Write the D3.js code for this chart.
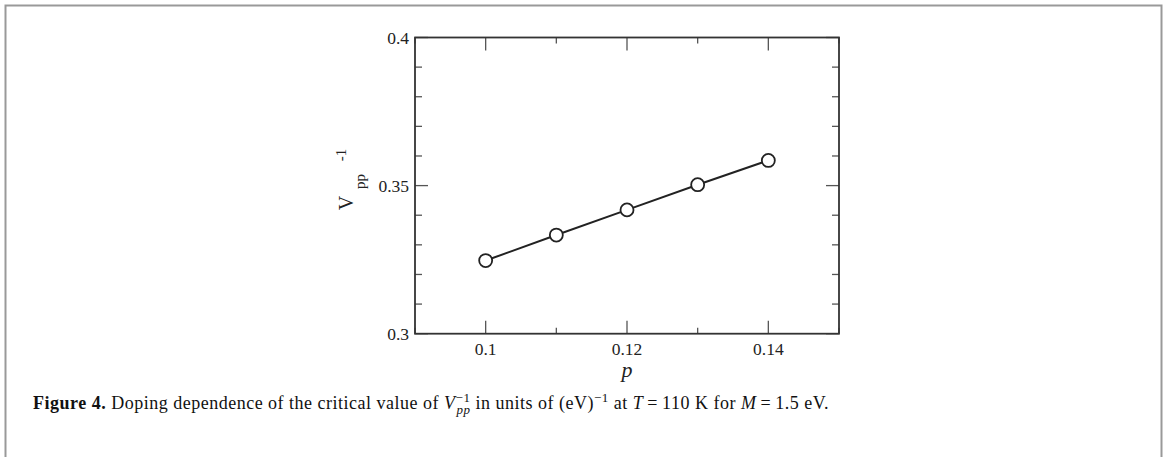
<!DOCTYPE html>
<html><head><meta charset="utf-8">
<script src="https://cdn.jsdelivr.net/npm/d3@7/dist/d3.min.js"></script>
<style>
html,body{margin:0;padding:0;background:#fff;}
svg{display:block;}
text{font-family:"Liberation Serif","Times New Roman",serif;}
</style></head><body>
<svg id="c" width="1168" height="457"></svg>
<script>
const pValues = [0.10, 0.11, 0.12, 0.13, 0.14];
const vInv = [0.3247, 0.3333, 0.3418, 0.3503, 0.3585];
const xMajorTicks = [0.10, 0.12, 0.14];
const xMinorTicks = [0.09, 0.11, 0.13, 0.15];
const yMajorTicks = [0.30, 0.35, 0.40];
const yMinorTicks = [0.31, 0.32, 0.33, 0.34, 0.36, 0.37, 0.38, 0.39];
const xTickLabels = ["0.1", "0.12", "0.14"];
const yTickLabels = ["0.3", "0.35", "0.4"];

const svg = d3.select("#c");
// outer figure frame
svg.append("path").attr("d","M5.5,470 V5.5 H1161.5 V470")
  .attr("fill","none").attr("stroke","#999").attr("stroke-width",2);

const L=415, R=839, T=37.5, B=333.7;
const x = d3.scaleLinear().domain([0.09,0.15]).range([L,R]);
const y = d3.scaleLinear().domain([0.30,0.40]).range([B,T]);
const g = svg.append("g");

const tickCol="#555";
function yT(vals,len){
  g.selectAll(null).data(vals).enter().append("line")
    .attr("x1",L).attr("x2",L+len).attr("y1",d=>y(d)).attr("y2",d=>y(d))
    .attr("stroke",tickCol).attr("stroke-width",1.3);
  g.selectAll(null).data(vals).enter().append("line")
    .attr("x1",R).attr("x2",R-len).attr("y1",d=>y(d)).attr("y2",d=>y(d))
    .attr("stroke",tickCol).attr("stroke-width",1.3);
}
function xT(vals,len){
  g.selectAll(null).data(vals).enter().append("line")
    .attr("y1",B).attr("y2",B-len).attr("x1",d=>x(d)).attr("x2",d=>x(d))
    .attr("stroke",tickCol).attr("stroke-width",1.3);
  g.selectAll(null).data(vals).enter().append("line")
    .attr("y1",T).attr("y2",T+len).attr("x1",d=>x(d)).attr("x2",d=>x(d))
    .attr("stroke",tickCol).attr("stroke-width",1.3);
}
yT(yMajorTicks,13); yT(yMinorTicks,7);
xT(xMajorTicks,13); xT(xMinorTicks,6);

// frame
g.append("rect").attr("x",L).attr("y",T).attr("width",R-L).attr("height",B-T)
  .attr("fill","none").attr("stroke","#333").attr("stroke-width",1.8);

// tick labels
g.selectAll(null).data(yMajorTicks).enter().append("text")
  .attr("x",L-6).attr("y",d=>y(d)).attr("dy","0.35em").attr("text-anchor","end")
  .attr("font-size",17.5).attr("fill","#222").text((d,i)=>yTickLabels[i]);
g.selectAll(null).data(xMajorTicks).enter().append("text")
  .attr("x",d=>x(d)).attr("y",B+21).attr("text-anchor","middle")
  .attr("font-size",17.5).attr("fill","#222").text((d,i)=>xTickLabels[i]);

// axis titles
g.append("text").attr("x",(L+R)/2).attr("y",377).attr("text-anchor","middle")
  .attr("font-size",22).attr("font-style","italic").attr("fill","#222").text("p");
function rot(tx,ty,str,size){
  g.append("text").attr("transform",`translate(${tx},${ty}) rotate(-90)`)
   .attr("text-anchor","middle").attr("font-size",size).attr("fill","#222").text(str);
}
rot(353,203,"V",20);
rot(365,181.5,"pp",15);
rot(346,155,"-1",15);

// data line and markers
const data = pValues.map((p,i)=>({p, v:vInv[i]}));
g.append("path").datum(data)
  .attr("d",d3.line().x(d=>x(d.p)).y(d=>y(d.v)))
  .attr("fill","none").attr("stroke","#222").attr("stroke-width",2);
g.selectAll(null).data(data).enter().append("circle")
  .attr("cx",d=>x(d.p)).attr("cy",d=>y(d.v)).attr("r",6.5)
  .attr("fill","#fff").attr("stroke","#222").attr("stroke-width",1.8);

// caption
const cap = svg.append("text").attr("x",33).attr("y",409).attr("font-size",18)
  .attr("letter-spacing",0.5).attr("fill","#111");
cap.append("tspan").attr("font-weight","bold").text("Figure 4.");
cap.append("tspan").text(" Doping dependence of the critical value of ");
cap.append("tspan").attr("font-style","italic").text("V");
cap.append("tspan").attr("font-size",13).attr("dy",-7).text("\u22121");
cap.append("tspan").attr("font-size",13).attr("font-style","italic").attr("dx",-14).attr("dy",12).text("pp");
cap.append("tspan").attr("dy",-5).text(" in units of (eV)");
cap.append("tspan").attr("font-size",13).attr("dy",-7).text("\u22121");
cap.append("tspan").attr("dy",7).text(" at ");
cap.append("tspan").attr("font-style","italic").text("T");
cap.append("tspan").text("\u2009=\u2009110 K for ");
cap.append("tspan").attr("font-style","italic").text("M");
cap.append("tspan").text("\u2009=\u20091.5 eV.");
</script>
</body></html>
